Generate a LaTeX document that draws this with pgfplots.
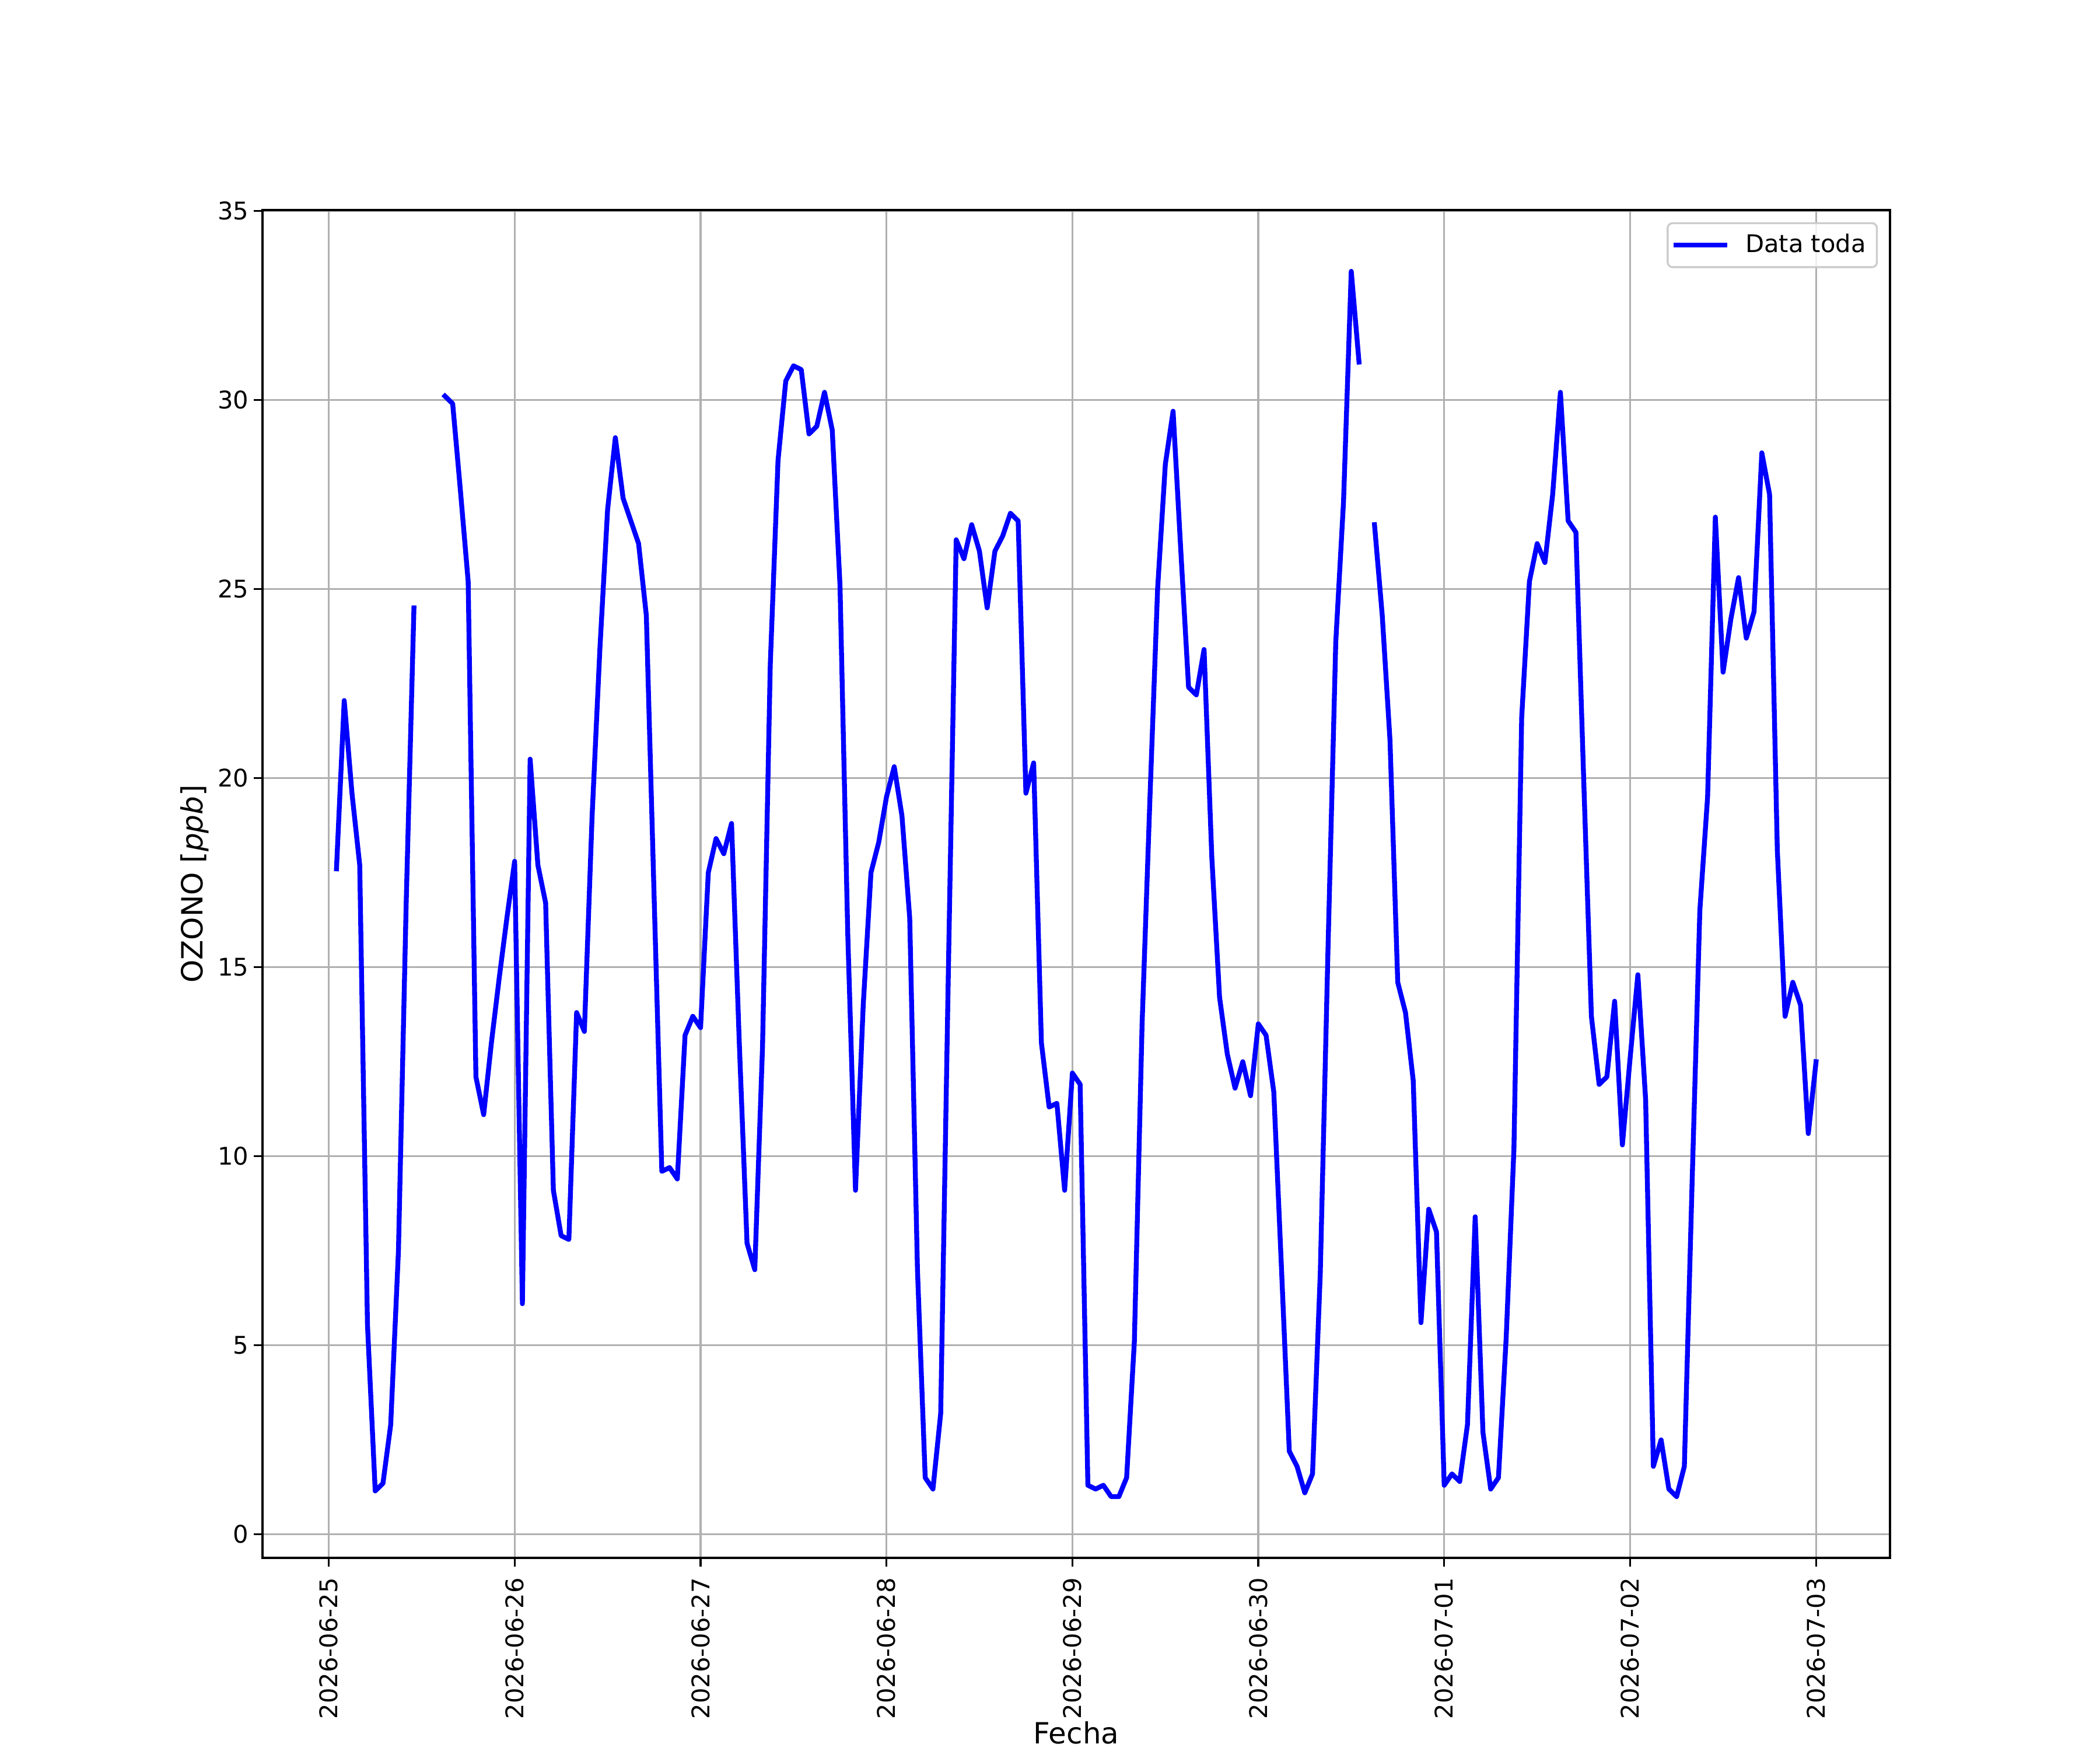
\documentclass[border=0pt]{standalone}
\usepackage{fontspec}
\setmainfont{DejaVu Sans}
\usepackage{pgfplots}
\usepackage{pgfplotstable}
\pgfplotsset{compat=1.18}
\definecolor{gridgray}{HTML}{B0B0B0}
\definecolor{legframe}{HTML}{CCCCCC}
\pgfplotstableread{
h v
1 17.6
2 22.05
3 19.6
4 17.7
5 5.55
6 1.15
7 1.35
8 2.9
9 7.5
10 16.7
11 24.5
12 nan
13 nan
14 nan
15 30.1
16 29.9
17 27.6
18 25.2
19 12.1
20 11.1
21 13.0
22 14.7
23 16.3
24 17.8
25 6.1
26 20.5
27 17.7
28 16.7
29 9.1
30 7.9
31 7.8
32 13.8
33 13.3
34 19.0
35 23.4
36 27.1
37 29.0
38 27.4
39 26.8
40 26.2
41 24.3
42 16.9
43 9.6
44 9.7
45 9.4
46 13.2
47 13.7
48 13.4
49 17.5
50 18.4
51 18.0
52 18.8
53 13.0
54 7.7
55 7.0
56 12.9
57 23.0
58 28.4
59 30.5
60 30.9
61 30.8
62 29.1
63 29.3
64 30.2
65 29.2
66 25.1
67 15.9
68 9.1
69 14.0
70 17.5
71 18.3
72 19.5
73 20.3
74 19.0
75 16.3
76 7.0
77 1.5
78 1.2
79 3.2
80 15.0
81 26.3
82 25.8
83 26.7
84 26.0
85 24.5
86 26.0
87 26.4
88 27.0
89 26.8
90 19.6
91 20.4
92 13.0
93 11.3
94 11.4
95 9.1
96 12.2
97 11.9
98 1.3
99 1.2
100 1.3
101 1.0
102 1.0
103 1.5
104 5.1
105 13.5
106 19.4
107 25.0
108 28.3
109 29.7
110 26.0
111 22.4
112 22.2
113 23.4
114 17.9
115 14.2
116 12.7
117 11.8
118 12.5
119 11.6
120 13.5
121 13.2
122 11.7
123 7.0
124 2.2
125 1.8
126 1.1
127 1.6
128 6.9
129 15.5
130 23.6
131 27.3
132 33.4
133 31.0
134 nan
135 26.7
136 24.3
137 21.0
138 14.6
139 13.8
140 12.0
141 5.6
142 8.6
143 8.0
144 1.3
145 1.6
146 1.4
147 2.9
148 8.4
149 2.7
150 1.2
151 1.5
152 5.2
153 10.2
154 21.6
155 25.2
156 26.2
157 25.7
158 27.5
159 30.2
160 26.8
161 26.5
162 20.0
163 13.7
164 11.9
165 12.1
166 14.1
167 10.3
168 12.6
169 14.8
170 11.5
171 1.8
172 2.5
173 1.2
174 1.0
175 1.8
176 9.3
177 16.5
178 19.5
179 26.9
180 22.8
181 24.2
182 25.3
183 23.7
184 24.4
185 28.6
186 27.5
187 18.1
188 13.7
189 14.6
190 14.0
191 10.6
192 12.5
}\ozono
\begin{document}
\begin{tikzpicture}
\useasboundingbox (-108pt,-79.2pt) rectangle (756pt,640.8pt);
\begin{axis}[
  at={(0,0)}, anchor=south west,
  width=669.6pt, height=554.4pt, scale only axis,
  xmin=-8.55, xmax=201.55,
  ymin=-0.62, ymax=35.02,
  xtick={0,24,48,72,96,120,144,168,192},
  xticklabels={2026-06-25,2026-06-26,2026-06-27,2026-06-28,2026-06-29,2026-06-30,2026-07-01,2026-07-02,2026-07-03},
  ytick={0,5,10,15,20,25,30,35},
  /pgf/number format/assume math mode=true,
  xtick pos=bottom, ytick pos=left,
  tick align=outside,
  major tick length=3.5pt,
  tick style={black, line width=0.8pt},
  axis line style={line width=0.8pt},
  grid=major,
  major grid style={gridgray, line width=0.8pt},
  xticklabel style={rotate=90, anchor=east, inner sep=0pt, font=\fontsize{10}{12}\selectfont},
  yticklabel style={anchor=east, inner sep=0pt, font=\fontsize{10}{12}\selectfont},
  xticklabel shift=4.5pt,
  yticklabel shift=2pt,
  xlabel={Fecha},
  ylabel={OZONO [\textit{ppb}]},
  xlabel style={inner sep=0pt, font=\fontsize{12}{14}\selectfont, yshift=-0.8pt},
  ylabel style={inner sep=0pt, font=\fontsize{12}{14}\selectfont, yshift=3.5pt},
  unbounded coords=jump,
  legend style={at={(1,1)}, anchor=north east, xshift=-5pt, yshift=-5pt,
    draw=legframe, line width=0.8pt, rounded corners=2pt, fill=white, fill opacity=0.8, text opacity=1,
    inner xsep=2.5pt, inner ysep=2.5pt, column sep=5.5pt, font=\fontsize{10}{12}\selectfont},
  legend cell align=left,
  legend image code/.code={\draw[#1] (0pt,0pt) -- (20pt,0pt);},
]
\addplot[blue, line width=2pt, line join=round, line cap=rect] table[x=h, y=v] {\ozono};
\addlegendentry{Data toda}
\end{axis}
\end{tikzpicture}
\end{document}
